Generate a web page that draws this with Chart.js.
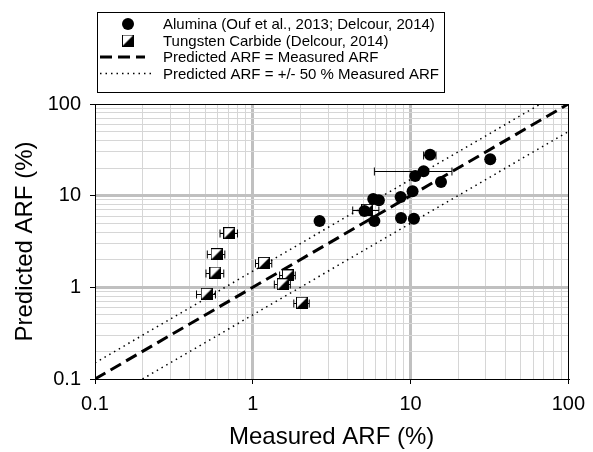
<!DOCTYPE html>
<html>
<head>
<meta charset="utf-8">
<script src="https://cdn.jsdelivr.net/npm/chart.js@4.4.0/dist/chart.umd.min.js"></script>
<style>
  html, body { margin: 0; padding: 0; background: #fff; }
</style>
</head>
<body>
<canvas id="arfChart" width="593" height="452"></canvas>
<script>
// measured vs predicted ARF (%)
const aluminaX = [2.65, 13.3, 12.1, 10.7, 15.6, 10.3, 8.65, 5.8, 6.3, 5.1, 5.9, 8.7, 10.5, 32];
const aluminaY = [5.3, 28, 18.5, 16.4, 14.1, 11.2, 9.66, 9.2, 8.9, 6.8, 5.3, 5.7, 5.6, 25];
const aluminaErr = [0, 1.2, 6.2, 0, 0, 0, 0, 0, 0, 0, 0, 0, 0, 0];

const carbideX = [0.71, 0.59, 0.58, 0.51, 1.18, 1.67, 1.55, 2.05, 5.3];
const carbideY = [3.9, 2.3, 1.45, 0.85, 1.85, 1.35, 1.08, 0.68, 7.0];
const carbideErr = [0.09, 0.075, 0.075, 0.07, 0.14, 0.19, 0.18, 0.23, 1.0];

// reference lines
const oneToOneX = [0.1, 100];
const oneToOneY = [0.1, 100];
const upperX = [0.1, 66.7];
const upperY = [0.15, 100];
const lowerX = [0.2, 100];
const lowerY = [0.1, 50];

const tickLabels = ['0.1', '1', '10', '100'];
const majorTicks = [0.1, 1, 10, 100];

const FONT = '"Liberation Sans", Arial, sans-serif';

function pairs(xs, ys) {
    return xs.map((x, i) => ({ x: x, y: ys[i] }));
}

function isMajor(v) {
    const l = Math.log10(v);
    return Math.abs(l - Math.round(l)) < 1e-9;
}

// grid positions 1..9 per decade
const gridVals = [];
[0.1, 1, 10].forEach(d => {
    for (let k = 1; k <= 9; k++) gridVals.push(k * d);
});
gridVals.push(100);

// half filled square marker
function makeSquare(size) {
    const c = document.createElement('canvas');
    c.width = size; c.height = size;
    const g = c.getContext('2d');
    g.fillStyle = '#fff';
    g.fillRect(0.5, 0.5, size - 1, size - 1);
    g.fillStyle = '#000';
    g.beginPath();
    g.moveTo(0.5, size - 0.5);
    g.lineTo(size - 0.5, 0.5);
    g.lineTo(size - 0.5, size - 0.5);
    g.closePath();
    g.fill();
    g.strokeStyle = '#000';
    g.lineWidth = 1;
    g.strokeRect(0.5, 0.5, size - 1, size - 1);
    return c;
}
const squareImg = makeSquare(12);

const frameAndLegend = {
    id: 'frameAndLegend',
    beforeDatasetsDraw(chart) {
        const a = chart.chartArea, ctx = chart.ctx;
        const xs = chart.scales.x, ys = chart.scales.y;
        ctx.save();
        ctx.strokeStyle = '#000';
        ctx.lineWidth = 1;
        ctx.strokeRect(Math.round(a.left) + 0.5, Math.round(a.top) + 0.5,
            Math.round(a.right - a.left), Math.round(a.bottom - a.top));
        // horizontal error bars, under the markers
        chart.data.datasets.forEach(ds => {
            if (!ds.xErr) return;
            ds.data.forEach((p, i) => {
                const e = ds.xErr[i];
                if (!e) return;
                const x0 = xs.getPixelForValue(p.x - e);
                const x1 = xs.getPixelForValue(p.x + e);
                const y = Math.round(ys.getPixelForValue(p.y)) + 0.5;
                ctx.beginPath();
                ctx.moveTo(x0, y); ctx.lineTo(x1, y);
                ctx.moveTo(x0, y - 4); ctx.lineTo(x0, y + 4);
                ctx.moveTo(x1, y - 4); ctx.lineTo(x1, y + 4);
                ctx.stroke();
            });
        });
        ctx.restore();
    },
    afterDraw(chart) {
        const ctx = chart.ctx;
        ctx.save();
        ctx.fillStyle = '#fff';
        ctx.fillRect(97.5, 12.5, 347, 80);
        ctx.strokeStyle = '#000';
        ctx.lineWidth = 1;
        ctx.strokeRect(97.5, 12.5, 347, 80);
        const rows = [24, 40.5, 57, 73.5];
        const items = chart.data.datasets.filter(ds => !ds.hideInLegend);
        ctx.font = '15px ' + FONT;
        ctx.textBaseline = 'middle';
        items.forEach((ds, i) => {
            const y = rows[i];
            ctx.fillStyle = '#000';
            ctx.strokeStyle = '#000';
            if (ds.type === 'line') {
                ctx.lineWidth = ds.borderWidth;
                ctx.setLineDash(ds.borderDash);
                ctx.beginPath();
                ctx.moveTo(100, y);
                ctx.lineTo(ds.borderDash[0] > 2 ? 145 : 151, y);
                ctx.stroke();
                ctx.setLineDash([]);
            } else if (ds.pointStyle === 'circle') {
                ctx.beginPath();
                ctx.arc(128, y, 6, 0, Math.PI * 2);
                ctx.fill();
            } else {
                ctx.drawImage(squareImg, 128 - 6, y - 6);
            }
            ctx.fillText(ds.label, 163, y + 1);
        });
        ctx.restore();
    }
};

function axisOpts(titleText, isY) {
    return {
        type: 'logarithmic',
        min: 0.1,
        max: 100,
        afterBuildTicks(scale) {
            scale.ticks = gridVals.map(v => ({ value: v, major: isMajor(v) }));
        },
        afterFit(scale) {
            if (isY) scale.width = 95;
            else scale.height = 73;
        },
        ticks: {
            autoSkip: false,
            maxRotation: 0,
            padding: isY ? 9 : 8,
            color: '#000',
            font: { family: FONT, size: 20 },
            callback(value) {
                const idx = majorTicks.findIndex(m => Math.abs(m - value) < 1e-9 * m);
                return idx >= 0 ? tickLabels[idx] : '';
            }
        },
        grid: {
            color(c) {
                const v = c.tick.value;
                if (v <= 0.1 + 1e-9 || v >= 100 - 1e-9) return 'rgba(0,0,0,0)';
                return isMajor(v) ? '#c0c0c0' : '#d6d6d6';
            },
            lineWidth(c) { return isMajor(c.tick.value) ? 3 : 1; },
            tickColor(c) { return isMajor(c.tick.value) ? '#000' : 'rgba(0,0,0,0)'; },
            tickWidth: 1,
            tickLength: 5
        },
        border: { display: true, color: '#000', width: 1 },
        title: {
            display: true,
            text: titleText,
            color: '#000',
            font: { family: FONT, size: 24 },
            padding: isY ? { top: 11, bottom: 0 } : { top: 0, bottom: 0 }
        }
    };
}

new Chart(document.getElementById('arfChart'), {
    type: 'scatter',
    data: {
        datasets: [{
            label: 'Alumina (Ouf et al., 2013; Delcour, 2014)',
            data: pairs(aluminaX, aluminaY),
            xErr: aluminaErr,
            pointStyle: 'circle',
            pointRadius: 6,
            backgroundColor: '#000',
            borderColor: '#000',
            borderWidth: 0
        }, {
            label: 'Tungsten Carbide (Delcour, 2014)',
            data: pairs(carbideX, carbideY),
            xErr: carbideErr,
            pointStyle: squareImg,
            pointRadius: 6
        }, {
            type: 'line',
            label: 'Predicted ARF = Measured ARF',
            data: pairs(oneToOneX, oneToOneY),
            borderColor: '#000',
            borderWidth: 3,
            borderDash: [12, 6],
            pointRadius: 0,
            fill: false
        }, {
            type: 'line',
            label: 'Predicted ARF = +/- 50 % Measured ARF',
            data: pairs(upperX, upperY),
            borderColor: '#000',
            borderWidth: 1.5,
            borderDash: [1.5, 4],
            pointRadius: 0,
            fill: false
        }, {
            type: 'line',
            label: 'Predicted ARF = +/- 50 % Measured ARF',
            hideInLegend: true,
            data: pairs(lowerX, lowerY),
            borderColor: '#000',
            borderWidth: 1.5,
            borderDash: [1.5, 4],
            pointRadius: 0,
            fill: false
        }]
    },
    options: {
        responsive: false,
        animation: false,
        layout: { padding: { top: 104, right: 20, left: 0, bottom: 0 } },
        plugins: {
            legend: { display: false },
            tooltip: { enabled: false }
        },
        scales: {
            x: axisOpts('Measured ARF (%)', false),
            y: axisOpts('Predicted ARF (%)', true)
        }
    },
    plugins: [frameAndLegend]
});
</script>
</body>
</html>
